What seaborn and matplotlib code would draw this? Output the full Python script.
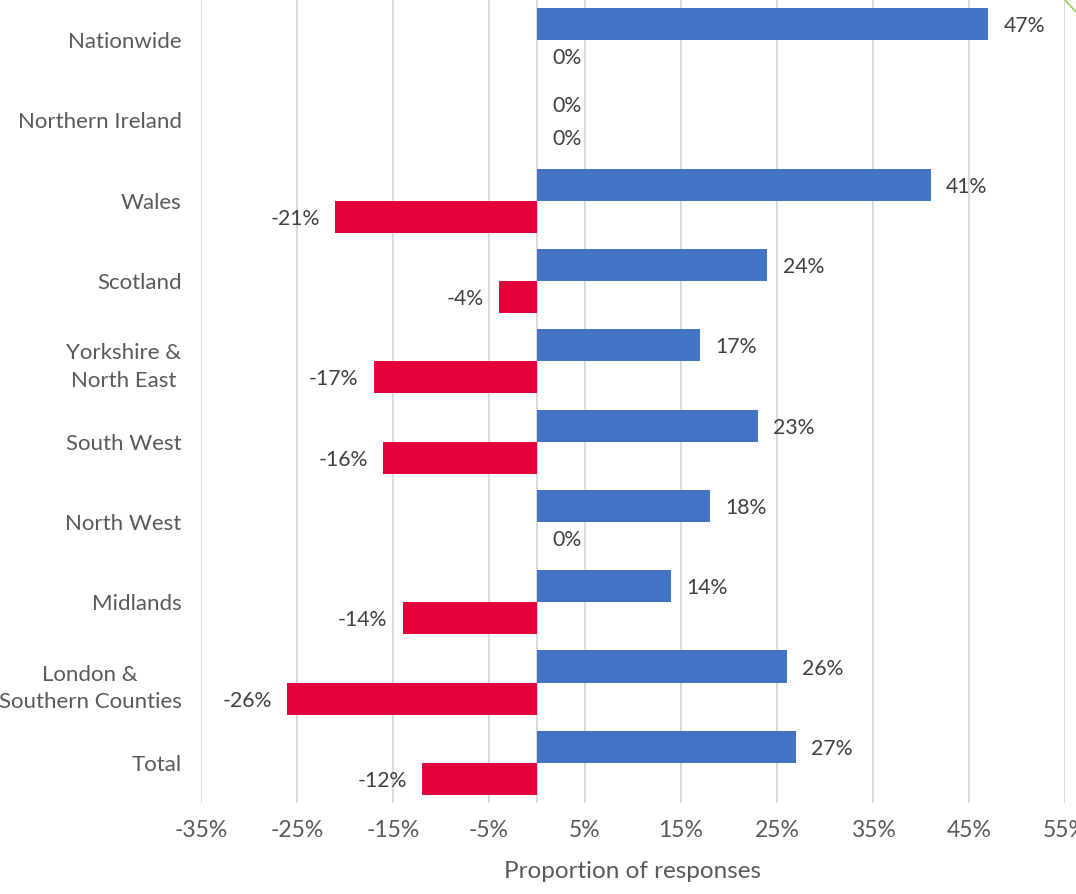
import matplotlib
matplotlib.use("Agg")
import matplotlib.pyplot as plt
from matplotlib.lines import Line2D
import seaborn as sns
import pandas as pd

regions = ["Nationwide", "Northern Ireland", "Wales", "Scotland",
           "Yorkshire &\nNorth East", "South West", "North West", "Midlands",
           "London &\nSouthern Counties", "Total"]
positive = [47, 0, 41, 24, 17, 23, 18, 14, 26, 27]
negative = [0, 0, -21, -4, -17, -16, 0, -14, -26, -12]
series = ["Positive", "Negative"]
x_ticks = [-35, -25, -15, -5, 5, 15, 25, 35, 45, 55]

colors = {"Positive": "#4472C4", "Negative": "#E4003A"}
grid_col = "#D9D9D9"
text_col = "#595959"

df = pd.DataFrame({
    "region": regions * 2,
    "value": positive + negative,
    "series": [series[0]] * len(regions) + [series[1]] * len(regions),
})

sns.set_theme(style="white")
plt.rcParams["font.family"] = ["Lato", "DejaVu Sans"]

fig = plt.figure(figsize=(10.76, 8.94), dpi=100)
ax = fig.add_axes([201 / 1076, (894 - 803) / 894, 864 / 1076, 803 / 894])

sns.barplot(data=df, y="region", x="value", hue="series", order=regions,
            hue_order=series, palette=colors, saturation=1, orient="h",
            width=0.8, legend=False, ax=ax, linewidth=0)

ax.set_xlim(-35, 55)
ax.set_ylim(len(regions) - 0.5, -0.5)
ax.set_xticks(x_ticks)
ax.set_xticklabels([f"{t}%" for t in x_ticks])
for t in x_ticks:
    ax.axvline(t, color=grid_col, lw=1.4, zorder=0)
ax.axvline(0, color=grid_col, lw=1.4, zorder=0.5)

for s in ax.spines.values():
    s.set_visible(False)
ax.tick_params(axis="both", length=0, colors=text_col)
ax.tick_params(axis="y", pad=14, labelsize=16)
ax.tick_params(axis="x", pad=12, labelsize=16.5)
for lbl in ax.get_yticklabels():
    lbl.set_multialignment("center")
    lbl.set_linespacing(1.45)
ax.set_ylabel("")
ax.set_xlabel("Proportion of responses", color=text_col, fontsize=17.5, labelpad=15)

# value labels at bar ends
for container, vals in zip(ax.containers, [positive, negative]):
    for patch, v in zip(container.patches, vals):
        y = patch.get_y() + patch.get_height() / 2
        xend = patch.get_x() + patch.get_width()
        if v >= 0:
            ax.annotate(f"{v}%", (xend, y), xytext=(11, -1.5), textcoords="offset points",
                        ha="left", va="center", color="#404040", fontsize=15.3)
        else:
            ax.annotate(f"{v}%", (xend, y), xytext=(-11, -1.5), textcoords="offset points",
                        ha="right", va="center", color="#404040", fontsize=15.3)

# corner accent line
fig.add_artist(Line2D([1065 / 1076, 1076 / 1076], [1, 1 - 12 / 894],
                      transform=fig.transFigure, color="#92D050", lw=1.2))

fig.savefig("out.png", dpi=100)
